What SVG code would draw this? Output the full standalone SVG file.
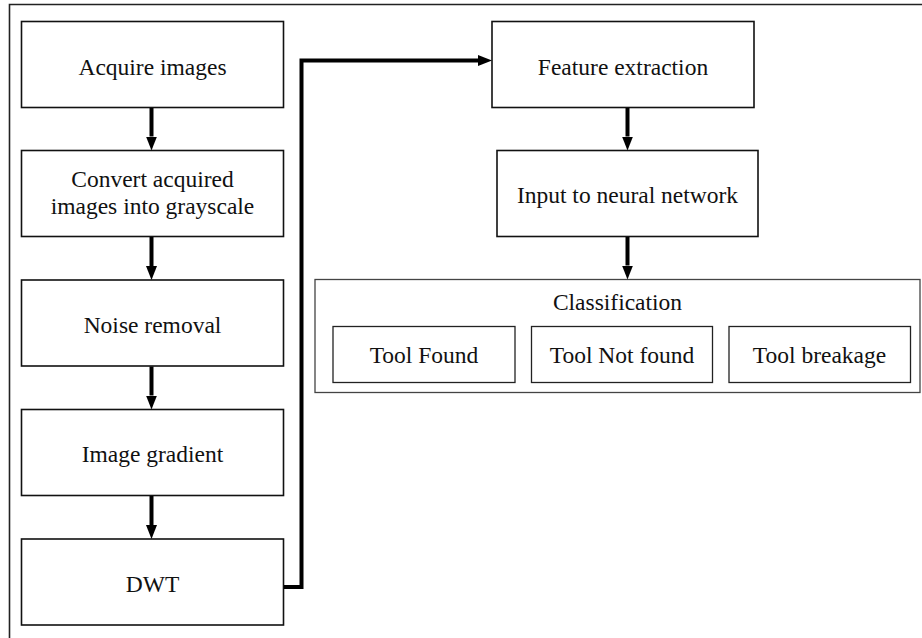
<svg xmlns="http://www.w3.org/2000/svg" width="922" height="638" viewBox="0 0 922 638">
<defs>
<marker id="ah" viewBox="0 0 14 11" refX="0" refY="5.5" markerWidth="14" markerHeight="11" markerUnits="userSpaceOnUse" orient="auto">
<path d="M0,0 L14,5.5 L0,11 z" fill="#000"/>
</marker>
<style>
.box{fill:#fff;stroke:#111;stroke-width:1.6}
.sub{fill:#fff;stroke:#222;stroke-width:1.3}
.grp{fill:#fff;stroke:#444;stroke-width:1.3}
.t{font-family:"Liberation Serif","Times New Roman",serif;font-size:23.5px;fill:#111;text-anchor:middle}
.c{fill:none;stroke:#000;stroke-width:4}
</style>
</defs>
<rect width="922" height="638" fill="#fff"/>
<path d="M9.5,638 V4.5 H922" fill="none" stroke="#222" stroke-width="1.6"/>

<g id="n1"><rect class="box" x="21.5" y="21.5" width="262" height="86"/><text class="t" x="152.5" y="75">Acquire images</text></g>
<g id="n2"><rect class="box" x="21.5" y="150.5" width="262" height="86"/><text class="t" x="152.5" y="187">Convert acquired</text><text class="t" x="152.5" y="214">images into grayscale</text></g>
<g id="n3"><rect class="box" x="21.5" y="280" width="262" height="86"/><text class="t" x="152.5" y="333">Noise removal</text></g>
<g id="n4"><rect class="box" x="21.5" y="409.5" width="262" height="86"/><text class="t" x="152.5" y="462">Image gradient</text></g>
<g id="n5"><rect class="box" x="21.5" y="539" width="262" height="86"/><text class="t" x="152.5" y="592">DWT</text></g>
<g id="n6"><rect class="box" x="492" y="21.5" width="262" height="86"/><text class="t" x="623" y="75">Feature extraction</text></g>
<g id="n7"><rect class="box" x="497" y="150.5" width="261" height="86"/><text class="t" x="627.5" y="203">Input to neural network</text></g>
<g id="n8"><rect class="grp" x="315" y="279.5" width="605" height="113"/><text class="t" x="617.5" y="310">Classification</text></g>
<g id="n9"><rect class="sub" x="333" y="326.5" width="182" height="56"/><text class="t" x="424" y="363">Tool Found</text></g>
<g id="n10"><rect class="sub" x="531.5" y="326.5" width="181" height="56"/><text class="t" x="622" y="363">Tool Not found</text></g>
<g id="n11"><rect class="sub" x="729" y="326.5" width="181.5" height="56"/><text class="t" x="819.5" y="363">Tool breakage</text></g>

<g id="connectors">
<path class="c" d="M151.5,108 V136.5" marker-end="url(#ah)"/>
<path class="c" d="M151.5,237 V266" marker-end="url(#ah)"/>
<path class="c" d="M151.5,366.5 V395.5" marker-end="url(#ah)"/>
<path class="c" d="M151.5,496 V525" marker-end="url(#ah)"/>
<path class="c" d="M284,587 H301.5 V60.5 H478" marker-end="url(#ah)" stroke-linejoin="miter"/>
<path class="c" d="M627.5,108 V136.5" marker-end="url(#ah)"/>
<path class="c" d="M627.5,237 V265.5" marker-end="url(#ah)"/>
</g>
</svg>
